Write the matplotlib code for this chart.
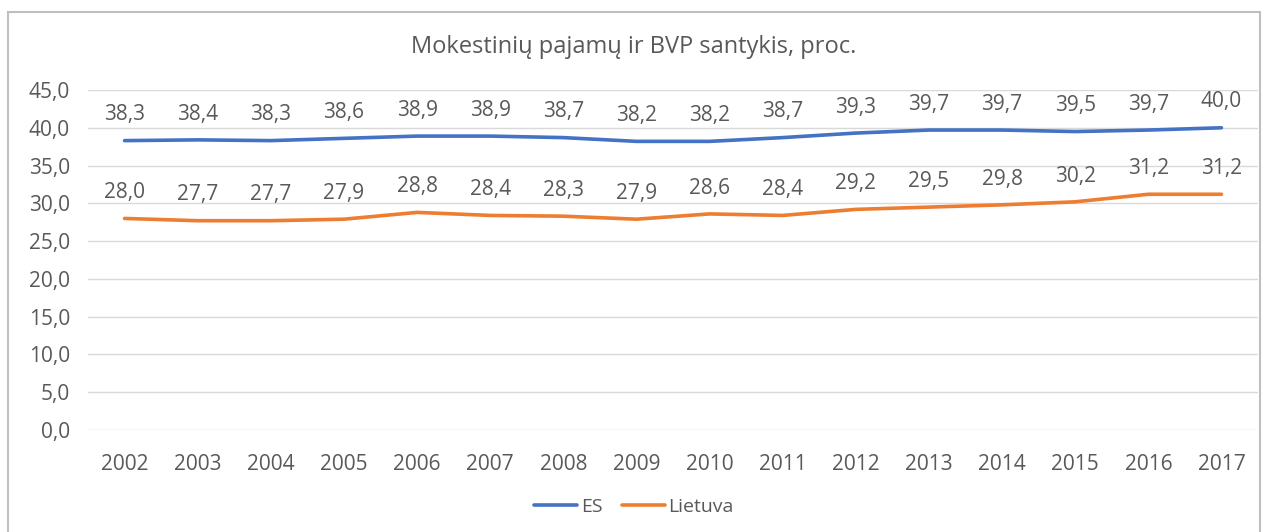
import matplotlib.pyplot as plt
from matplotlib.patches import Rectangle

years = [str(y) for y in range(2002, 2018)]
es = [38.3, 38.4, 38.3, 38.6, 38.9, 38.9, 38.7, 38.2, 38.2, 38.7, 39.3, 39.7, 39.7, 39.5, 39.7, 40.0]
lt = [28.0, 27.7, 27.7, 27.9, 28.8, 28.4, 28.3, 27.9, 28.6, 28.4, 29.2, 29.5, 29.8, 30.2, 31.2, 31.2]
yticks = [0, 5, 10, 15, 20, 25, 30, 35, 40, 45]

txt = "#595959"
plt.rcParams['font.family'] = ['Open Sans', 'DejaVu Sans']

fig = plt.figure(figsize=(12.68, 5.32), dpi=100)
ax = fig.add_axes([88/1268, 1-430/532, (1258-88)/1268, 340/532])

# outer chart frame
fig.patches.append(Rectangle((8/1268, -0.05), 1252/1268, 1-12/532+0.05,
                             transform=fig.transFigure, fill=False,
                             edgecolor="#bfbfbf", linewidth=1.5))

x = range(len(years))
ax.plot(x, es, color="#4472c4", linewidth=2.6, label="ES", solid_capstyle="round")
ax.plot(x, lt, color="#ed7d31", linewidth=2.6, label="Lietuva", solid_capstyle="round")

for i in x:
    ax.annotate(f"{es[i]:.1f}".replace(".", ","), (i, es[i]), xytext=(0, 11),
                textcoords="offset points", ha="center", va="bottom",
                fontsize=15, color=txt)
    ax.annotate(f"{lt[i]:.1f}".replace(".", ","), (i, lt[i]), xytext=(0, 11),
                textcoords="offset points", ha="center", va="bottom",
                fontsize=15, color=txt)

ax.set_xlim(-0.5, len(years) - 0.5)
ax.set_ylim(0, 45)
ax.set_yticks(yticks)
ax.set_yticklabels([f"{v:.1f}".replace(".", ",") for v in yticks])
ax.set_xticks(list(x))
ax.set_xticklabels(years)
ax.tick_params(length=0, labelsize=15, colors=txt)
ax.tick_params(axis="y", pad=13)
ax.tick_params(axis="x", pad=17)
ax.grid(axis="y", color="#d9d9d9", linewidth=1)
ax.set_axisbelow(True)
for s in ax.spines.values():
    s.set_visible(False)

fig.text(0.5, 1-47/532, "Mokestinių pajamų ir BVP santykis, proc.", ha="center",
         va="center", fontsize=17, color=txt)

fig.legend(loc="center", bbox_to_anchor=(0.5, 1-507/532), ncol=2, frameon=False,
           fontsize=14, labelcolor=txt, handlelength=2.2, handletextpad=0.2,
           columnspacing=1.0)

plt.savefig("out.png", dpi=100)
